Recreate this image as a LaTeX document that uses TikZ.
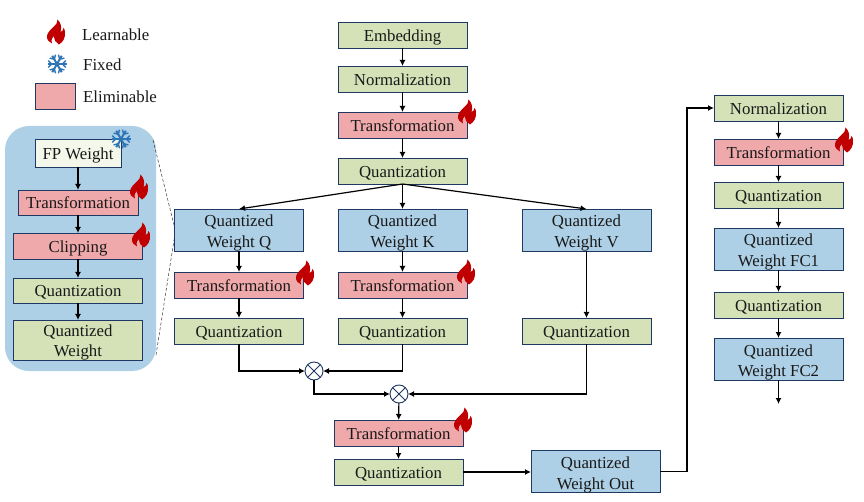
\documentclass[tikz,border=0pt]{standalone}
\usepackage{fontspec}
\setmainfont{Liberation Serif}
\usetikzlibrary{positioning,arrows.meta}
\definecolor{boxline}{HTML}{203864}
\definecolor{boxgreen}{HTML}{D5E2B8}
\definecolor{boxpink}{HTML}{EFA9AB}
\definecolor{boxblue}{HTML}{AED0E6}
\definecolor{boxcream}{HTML}{F4F8EA}
\definecolor{flamered}{HTML}{C00000}
\definecolor{flakeblue}{HTML}{2E75B6}
\def\BoxWidth{129pt}
\def\BoxHeight{26pt}
\tikzset{
  every node/.style={font=\fontsize{16.8}{20.5}\selectfont,text=black!90},
  box/.style={draw=boxline,line width=0.9pt,outer sep=0pt,minimum width=\BoxWidth,minimum height=\BoxHeight,inner sep=0pt,align=center,text height=16.5pt,text depth=4pt},
  greenbox/.style={box,fill=boxgreen},
  pinkbox/.style={box,fill=boxpink},
  twoline/.style={text height=38pt,text depth=3pt},
  bluebox/.style={box,twoline,fill=boxblue,minimum height=42pt},
  mult/.style={draw=boxline,line width=0.9pt,fill=white,circle,outer sep=0pt,minimum size=18pt,inner sep=0pt,
    path picture={\draw[boxline,line width=0.9pt] (path picture bounding box.north west) -- (path picture bounding box.south east)
      (path picture bounding box.north east) -- (path picture bounding box.south west);}},
  flow/.style={line width=1.2pt,-{Latex[length=6pt,width=6pt]}},
  zoomline/.style={black!80,densely dashed,line width=0.5pt},
  flame/.pic={
    \fill[flamered] (1.5,12.5) .. controls (3,7) and (-8,3) .. (-9,-4)
      .. controls (-9.3,-8) and (-7,-10) .. (-4,-11.5)
      .. controls (-5,-8) and (-4,-5) .. (-2,-4)
      .. controls (-2,-8) and (0,-11) .. (3,-12.5)
      .. controls (7,-10) and (9.5,-6) .. (9,0)
      .. controls (9,1.5) and (8.5,3) .. (7.5,4)
      .. controls (7.5,2) and (6,0.5) .. (4.5,0)
      .. controls (6,5) and (5,9) .. (1.5,12.5) -- cycle;
  },
  flake/.pic={
    \foreach \a in {30,90,...,330}{
      \draw[flakeblue,line width=2pt,rotate=\a] (0,0) -- (0,9.5);
      \draw[flakeblue,line width=1.4pt,rotate=\a] (-3.4,8.8) -- (0,5.4) -- (3.4,8.8);
    }
  },
}
\begin{document}
\begin{tikzpicture}[x=1pt,y=1pt]
  \useasboundingbox (0,0) rectangle (864,-502);
  % legend
  \pic at (56,-32) {flame};
  \pic at (57,-64) {flake};
  \node[box,fill=boxpink,minimum width=40pt] (legbox) at (55,-96) {};
  \node[anchor=west,inner sep=0pt] (leglearn) at (82,-35) {Learnable};
  \node[anchor=west,inner sep=0pt] (legfixed) at (83,-64.5) {Fixed};
  \node[anchor=west,inner sep=0pt] (legelim) at (83,-97) {Eliminable};
  % weight panel
  \node[fill=boxblue,rounded corners=24pt,minimum width=151pt,minimum height=245pt,inner sep=0pt,outer sep=0pt] (panel) at (80.5,-248.5) {};
  \node[box,fill=boxcream,minimum width=86pt,minimum height=28pt] (fp) at (78,-153) {FP Weight};
  \node[pinkbox,minimum width=120pt,minimum height=25pt,below=23pt of fp] (ptrans) {Transformation};
  \node[pinkbox,below=18pt of ptrans] (pclip) {Clipping};
  \node[greenbox,minimum height=25pt,below=19pt of pclip] (pquant) {Quantization};
  \node[greenbox,twoline,text height=36pt,minimum height=40pt,below=17pt of pquant] (pweight) {Quantized\\Weight};
  \draw[flow] (fp) -- (ptrans);
  \draw[flow] (ptrans) -- (pclip);
  \draw[flow] (pclip) -- (pquant);
  \draw[flow] (pquant) -- (pweight);
  \pic at (121,-139) {flake};
  \pic at (139,-187) {flame};
  \pic at (141,-235) {flame};
  % middle column
  \node[greenbox] (embed) at (402.5,-35) {Embedding};
  \node[greenbox,below=18pt of embed] (norm) {Normalization};
  \node[pinkbox,below=20pt of norm] (trans) {Transformation};
  \node[greenbox,below=20pt of trans] (quant) {Quantization};
  \node[bluebox,below=25pt of quant] (wk) {Quantized\\Weight K};
  \node[bluebox,left=34.5pt of wk] (wq) {Quantized\\Weight Q};
  \node[bluebox,right=55pt of wk] (wv) {Quantized\\Weight V};
  \node[pinkbox,below=21pt of wq] (transq) {Transformation};
  \node[pinkbox,below=21pt of wk] (transk) {Transformation};
  \node[greenbox,below=20pt of transq] (quantq) {Quantization};
  \node[greenbox,below=20pt of transk] (quantk) {Quantization};
  \node[greenbox] (quantv) at (wv|-quantk) {Quantization};
  \node[mult] (mulqk) at (314,-371) {};
  \node[mult] (mulv) at (399,-394) {};
  \node[pinkbox] (transo) at (398.5,-433) {Transformation};
  \node[greenbox,below=13pt of transo] (quanto) {Quantization};
  \node[bluebox,anchor=west] (wout) at (531,-471.5) {Quantized\\Weight Out};
  % right column
  \node[greenbox] (rnorm) at (778.5,-108) {Normalization};
  \node[pinkbox,below=18pt of rnorm] (rtrans) {Transformation};
  \node[greenbox,below=17pt of rtrans] (rquant) {Quantization};
  \node[bluebox,below=20pt of rquant] (fcone) {Quantized\\Weight FC1};
  \node[greenbox,below=22pt of fcone] (rquantb) {Quantization};
  \node[bluebox,below=20pt of rquantb] (fctwo) {Quantized\\Weight FC2};
  \coordinate[below=24pt of fctwo] (fcend);
  % connectors
  \draw[flow] (embed) -- (norm);
  \draw[flow] (norm) -- (trans);
  \draw[flow] (trans) -- (quant);
  \draw[flow] (quant.south) -- (wq.north);
  \draw[flow] (quant.south) -- (wk.north);
  \draw[flow] (quant.south) -- (wv.north);
  \draw[flow] (wq) -- (transq);
  \draw[flow] (wk) -- (transk);
  \draw[flow] (transq) -- (quantq);
  \draw[flow] (transk) -- (quantk);
  \draw[flow] (wv) -- (quantv);
  \draw[flow] (quantq.south) |- (mulqk.west);
  \draw[flow] (quantk.south) |- (mulqk.east);
  \draw[flow] (mulqk.south) |- (mulv.west);
  \draw[flow] (quantv.south) |- (mulv.east);
  \draw[flow] (mulv) -- (transo);
  \draw[flow] (transo) -- (quanto);
  \draw[flow] (quanto.east) -- (wout.west|-quanto.east);
  \draw[flow] (wout.east) -- ++(27,0) |- (rnorm.west);
  \draw[flow] (rnorm) -- (rtrans);
  \draw[flow] (rtrans) -- (rquant);
  \draw[flow] (rquant) -- (fcone);
  \draw[flow] (fcone) -- (rquantb);
  \draw[flow] (rquantb) -- (fctwo);
  \draw[flow] (fctwo) -- (fcend);
  % dashed zoom lines
  \draw[zoomline] ([xshift=-3pt,yshift=-14pt]panel.north east) -- ([yshift=3pt]wq.west);
  \draw[zoomline] ([yshift=16pt]panel.south east) -- ([yshift=-7pt]wq.west);
  % flames
  \pic at (467,-112) {flame};
  \pic at (305,-273) {flame};
  \pic at (466,-272) {flame};
  \pic at (463,-420) {flame};
  \pic at (844,-140) {flame};
\end{tikzpicture}
\end{document}
